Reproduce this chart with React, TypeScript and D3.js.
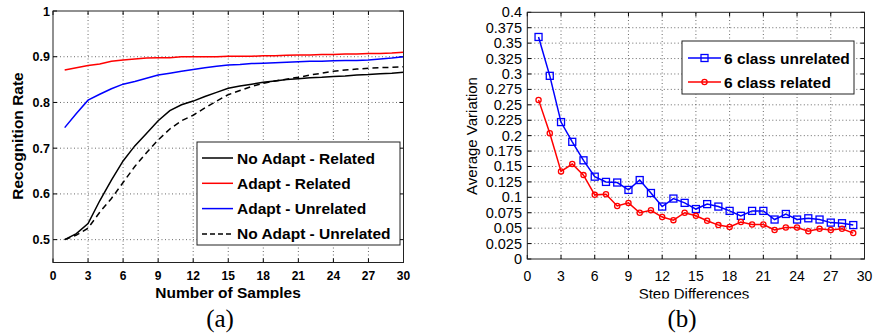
import React, { useRef, useEffect } from 'react';
import * as d3 from 'd3';

// ---- data: panel (a) ----
const samples = d3.range(1, 31);
const noAdaptRelated = [0.5, 0.513, 0.535, 0.585, 0.63, 0.672, 0.705, 0.732, 0.76, 0.782, 0.795, 0.803, 0.813, 0.822, 0.831, 0.836, 0.84, 0.844, 0.847, 0.85, 0.852, 0.854, 0.855, 0.857, 0.858, 0.86, 0.861, 0.863, 0.864, 0.866];
const adaptRelated = [0.871, 0.876, 0.881, 0.884, 0.89, 0.893, 0.895, 0.897, 0.898, 0.898, 0.9, 0.9, 0.9, 0.9, 0.901, 0.901, 0.901, 0.902, 0.902, 0.903, 0.904, 0.904, 0.905, 0.905, 0.906, 0.906, 0.907, 0.907, 0.908, 0.91];
const adaptUnrelated = [0.745, 0.776, 0.805, 0.818, 0.83, 0.84, 0.846, 0.853, 0.86, 0.864, 0.868, 0.872, 0.876, 0.879, 0.882, 0.883, 0.885, 0.886, 0.887, 0.888, 0.889, 0.89, 0.89, 0.891, 0.892, 0.892, 0.893, 0.895, 0.897, 0.9];
const noAdaptUnrelated = [0.5, 0.51, 0.525, 0.56, 0.59, 0.625, 0.66, 0.69, 0.718, 0.742, 0.76, 0.772, 0.788, 0.803, 0.817, 0.826, 0.835, 0.842, 0.847, 0.851, 0.855, 0.86, 0.864, 0.868, 0.871, 0.873, 0.875, 0.876, 0.877, 0.878];
const aXTicks = d3.range(0, 31, 3);
const aYTicks = [0.5, 0.6, 0.7, 0.8, 0.9, 1];

// ---- data: panel (b) ----
const steps = d3.range(1, 30);
const unrelated6 = [0.36, 0.297, 0.222, 0.19, 0.16, 0.1335, 0.125, 0.124, 0.112, 0.128, 0.107, 0.085, 0.098, 0.091, 0.081, 0.089, 0.085, 0.078, 0.07, 0.078, 0.078, 0.064, 0.073, 0.064, 0.066, 0.064, 0.059, 0.058, 0.055];
const related6 = [0.258, 0.204, 0.142, 0.154, 0.136, 0.104, 0.105, 0.086, 0.091, 0.075, 0.079, 0.068, 0.063, 0.075, 0.07, 0.062, 0.055, 0.052, 0.06, 0.056, 0.056, 0.047, 0.051, 0.051, 0.045, 0.049, 0.047, 0.049, 0.042];
const bXTicks = d3.range(0, 31, 3);
const bYTicks = d3.range(0, 17).map(i => i * 0.025);

const SANS = '"Liberation Sans", Arial, Helvetica, sans-serif';

const App = () => {
    const svgRef = useRef<SVGSVGElement>(null);

    useEffect(() => {
        const svg = d3.select(svgRef.current);
        svg.selectAll('*').remove();

        svg.append('defs').append('clipPath').attr('id', 'label-clip')
            .append('rect').attr('x', 0).attr('y', 0).attr('width', 877).attr('height', 298.5);

        // generic matlab-ish axes box
        const drawFrame = (g, x, y, xTicks, yTicks, xGrid, yGrid) => {
            const [x0, x1] = x.range();
            const [y0, y1] = y.range();
            g.append('rect')
                .attr('x', x0).attr('y', y1)
                .attr('width', x1 - x0).attr('height', y0 - y1)
                .attr('fill', '#fff');
            g.selectAll('line.vgrid').data(xGrid).join('line')
                .attr('x1', d => x(d)).attr('x2', d => x(d))
                .attr('y1', y0).attr('y2', y1)
                .attr('stroke', '#444').attr('stroke-width', 0.8).attr('stroke-dasharray', '1,2.5');
            g.selectAll('line.hgrid').data(yGrid).join('line')
                .attr('x1', x0).attr('x2', x1)
                .attr('y1', d => y(d)).attr('y2', d => y(d))
                .attr('stroke', '#444').attr('stroke-width', 0.8).attr('stroke-dasharray', '1,2.5');
            // inward ticks on all four sides
            xTicks.forEach(t => {
                g.append('line').attr('x1', x(t)).attr('x2', x(t)).attr('y1', y0).attr('y2', y0 - 4).attr('stroke', '#000');
                g.append('line').attr('x1', x(t)).attr('x2', x(t)).attr('y1', y1).attr('y2', y1 + 4).attr('stroke', '#000');
            });
            yTicks.forEach(t => {
                g.append('line').attr('x1', x0).attr('x2', x0 + 4).attr('y1', y(t)).attr('y2', y(t)).attr('stroke', '#000');
                g.append('line').attr('x1', x1).attr('x2', x1 - 4).attr('y1', y(t)).attr('y2', y(t)).attr('stroke', '#000');
            });
        };

        const strokeBox = (g, x, y) => {
            const [x0, x1] = x.range();
            const [y0, y1] = y.range();
            g.append('rect')
                .attr('x', x0).attr('y', y1)
                .attr('width', x1 - x0).attr('height', y0 - y1)
                .attr('fill', 'none').attr('stroke', '#222').attr('stroke-width', 1);
        };

        // ================= panel (a) =================
        const ga = svg.append('g');
        const xa = d3.scaleLinear().domain([0, 30]).range([53, 403.5]);
        const ya = d3.scaleLinear().domain([0.45, 1]).range([262.5, 11]);
        drawFrame(ga, xa, ya, aXTicks, aYTicks, aXTicks.slice(1, -1), aYTicks.slice(0, -1));

        const lineA = d3.line<number>().x((d, i) => xa(samples[i])).y(d => ya(d));
        const seriesA = [
            { name: 'No Adapt - Related', values: noAdaptRelated, color: '#000', dash: null },
            { name: 'Adapt - Related', values: adaptRelated, color: '#ff0000', dash: null },
            { name: 'Adapt - Unrelated', values: adaptUnrelated, color: '#0000ff', dash: null },
            { name: 'No Adapt - Unrelated', values: noAdaptUnrelated, color: '#000', dash: '6,4' },
        ];
        seriesA.forEach(s => {
            ga.append('path')
                .attr('d', lineA(s.values))
                .attr('fill', 'none')
                .attr('stroke', s.color)
                .attr('stroke-width', 1.5)
                .attr('stroke-dasharray', s.dash);
        });
        strokeBox(ga, xa, ya);

        ga.selectAll('text.xt').data(aXTicks).join('text')
            .attr('x', d => xa(d)).attr('y', 280)
            .attr('text-anchor', 'middle')
            .attr('font-family', SANS).attr('font-weight', 'bold').attr('font-size', 12)
            .text(d => d);
        ga.selectAll('text.yt').data(aYTicks).join('text')
            .attr('x', 50).attr('y', d => ya(d) + 4.5)
            .attr('text-anchor', 'end')
            .attr('font-family', SANS).attr('font-weight', 'bold').attr('font-size', 12.5)
            .text(d => d3.format('~g')(d));

        ga.append('text')
            .attr('x', 228).attr('y', 298)
            .attr('clip-path', 'url(#label-clip)')
            .attr('text-anchor', 'middle')
            .attr('font-family', SANS).attr('font-weight', 'bold').attr('font-size', 15.5)
            .text('Number of Samples');
        ga.append('text')
            .attr('transform', 'translate(23,136) rotate(-90)')
            .attr('text-anchor', 'middle')
            .attr('font-family', SANS).attr('font-weight', 'bold').attr('font-size', 15.5)
            .text('Recognition Rate');

        // legend (a)
        const la = ga.append('g');
        la.append('rect')
            .attr('x', 197).attr('y', 142).attr('width', 203).attr('height', 103)
            .attr('fill', '#fff').attr('stroke', '#222').attr('stroke-width', 1);
        seriesA.forEach((s, i) => {
            const cy = 158 + i * 25.3;
            la.append('line')
                .attr('x1', 202).attr('x2', 233).attr('y1', cy).attr('y2', cy)
                .attr('stroke', s.color).attr('stroke-width', 1.5)
                .attr('stroke-dasharray', s.dash ? '5,3' : null);
            la.append('text')
                .attr('x', 237).attr('y', cy + 5.5)
                .attr('font-family', SANS).attr('font-weight', 'bold').attr('font-size', 15.5)
                .text(s.name);
        });

        // ================= panel (b) =================
        const gb = svg.append('g');
        const xb = d3.scaleLinear().domain([0, 30]).range([527.3, 864.5]);
        const yb = d3.scaleLinear().domain([0, 0.4]).range([259, 12.3]);
        drawFrame(gb, xb, yb, bXTicks, bYTicks, bXTicks.slice(1, -1), bYTicks.slice(1, -1));

        const lineB = d3.line<number>().x((d, i) => xb(steps[i])).y(d => yb(d));
        const seriesB = [
            { name: '6 class unrelated', values: unrelated6, color: '#0000ff', marker: 'square' },
            { name: '6 class related', values: related6, color: '#ff0000', marker: 'circle' },
        ];
        const drawMarker = (g, cx, cy, s) => {
            if (s.marker === 'square') {
                g.append('rect')
                    .attr('x', cx - 3.5).attr('y', cy - 3.5).attr('width', 7).attr('height', 7)
                    .attr('fill', 'none').attr('stroke', s.color).attr('stroke-width', 1.3);
            } else {
                g.append('circle')
                    .attr('cx', cx).attr('cy', cy).attr('r', 2.6)
                    .attr('fill', 'none').attr('stroke', s.color).attr('stroke-width', 1.3);
            }
        };
        seriesB.forEach(s => {
            gb.append('path')
                .attr('d', lineB(s.values))
                .attr('fill', 'none')
                .attr('stroke', s.color)
                .attr('stroke-width', 1.5);
            s.values.forEach((v, i) => drawMarker(gb, xb(steps[i]), yb(v), s));
        });
        strokeBox(gb, xb, yb);

        gb.selectAll('text.xt').data(bXTicks).join('text')
            .attr('x', d => xb(d)).attr('y', 281)
            .attr('text-anchor', 'middle')
            .attr('font-family', SANS).attr('font-size', 14)
            .text(d => d);
        gb.selectAll('text.yt').data(bYTicks).join('text')
            .attr('x', 522).attr('y', d => yb(d) + 5)
            .attr('text-anchor', 'end')
            .attr('font-family', SANS).attr('font-size', 14.5)
            .text(d => d3.format('~g')(+d.toFixed(3)));

        gb.append('text')
            .attr('x', 694).attr('y', 299)
            .attr('clip-path', 'url(#label-clip)')
            .attr('text-anchor', 'middle')
            .attr('font-family', SANS).attr('font-size', 15)
            .text('Step Differences');
        gb.append('text')
            .attr('transform', 'translate(477,136) rotate(-90)')
            .attr('text-anchor', 'middle')
            .attr('font-family', SANS).attr('font-size', 15)
            .text('Average Variation');

        // legend (b)
        const lb = gb.append('g');
        lb.append('rect')
            .attr('x', 682).attr('y', 41).attr('width', 172).attr('height', 53)
            .attr('fill', '#fff').attr('stroke', '#222').attr('stroke-width', 1);
        seriesB.forEach((s, i) => {
            const cy = 58 + i * 24;
            lb.append('line')
                .attr('x1', 688).attr('x2', 721).attr('y1', cy).attr('y2', cy)
                .attr('stroke', s.color).attr('stroke-width', 1.5);
            drawMarker(lb, 704.5, cy, s);
            lb.append('text')
                .attr('x', 724).attr('y', cy + 5.5)
                .attr('font-family', SANS).attr('font-weight', 'bold').attr('font-size', 15.5)
                .text(s.name);
        });

        // captions
        svg.append('text')
            .attr('x', 220).attr('y', 327)
            .attr('text-anchor', 'middle')
            .attr('font-family', '"Liberation Serif", "DejaVu Serif", serif').attr('font-size', 25)
            .text('(a)');
        svg.append('text')
            .attr('x', 682).attr('y', 327)
            .attr('text-anchor', 'middle')
            .attr('font-family', '"Liberation Serif", "DejaVu Serif", serif').attr('font-size', 25)
            .text('(b)');
    }, []);

    return (
        <svg
            ref={svgRef}
            width={877}
            height={335}
            style={{ position: 'absolute', left: 0, top: 0, background: '#fff' }}
        />
    );
};

export default App;
